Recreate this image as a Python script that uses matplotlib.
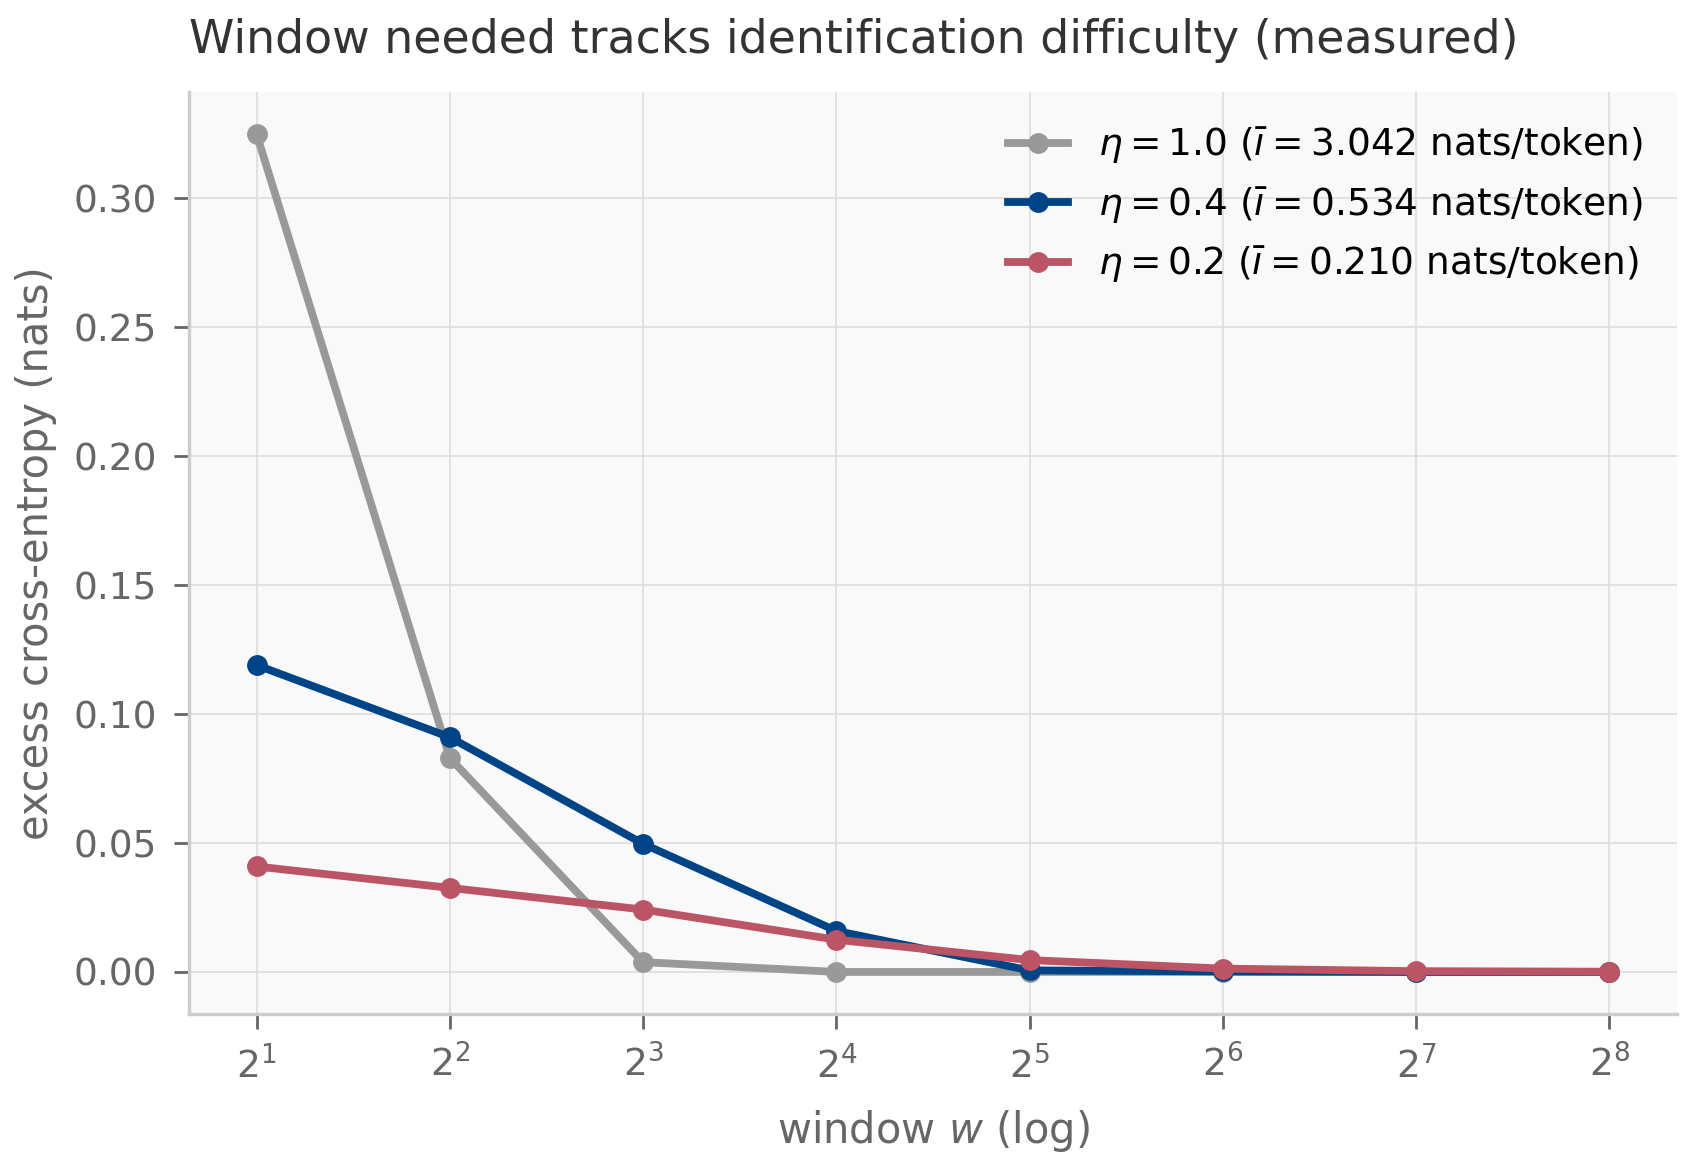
import numpy as np
import matplotlib
matplotlib.use("Agg")
import matplotlib.pyplot as plt

# window sizes (powers of two) and measured excess cross-entropy
windows = [2, 4, 8, 16, 32, 64, 128, 256]
eta_10 = [0.325, 0.083, 0.0038, 0.0, 0.0, 0.0, 0.0, 0.0]
eta_04 = [0.119, 0.091, 0.0497, 0.0159, 0.0006, 0.0002, 0.0, 0.0]
eta_02 = [0.0409, 0.0326, 0.0242, 0.0125, 0.0046, 0.0013, 0.0003, 0.0001]

labels = [
    r"$\eta = 1.0$ ($\bar{\imath} = 3.042$ nats/token)",
    r"$\eta = 0.4$ ($\bar{\imath} = 0.534$ nats/token)",
    r"$\eta = 0.2$ ($\bar{\imath} = 0.210$ nats/token)",
]
colors = ["#999999", "#004488", "#BB5566"]

plt.rcParams["font.family"] = ["DejaVu Sans"]

fig = plt.figure(figsize=(8.455, 5.82), dpi=200)
ax = fig.add_axes([0.1117, 0.129, 0.88, 0.792])
ax.set_facecolor("#f9f9f9")

for ys, lab, c in zip([eta_10, eta_04, eta_02], labels, colors):
    ax.plot(windows, ys, color=c, lw=2.8, marker="o", markersize=6.5, label=lab)

ax.set_xscale("log", base=2)
ax.set_xticks(windows)
ax.minorticks_off()

ax.grid(True, color="#dddddd", lw=0.6)
ax.set_axisbelow(True)
for s in ["top", "right"]:
    ax.spines[s].set_visible(False)
for s in ["left", "bottom"]:
    ax.spines[s].set_color("#cccccc")
    ax.spines[s].set_linewidth(1.2)

ax.tick_params(colors="#666666", labelsize=13.5, length=5.5, width=1.0, pad=6)

ax.set_xlabel(r"window $w$ (log)", fontsize=15, color="#666666", labelpad=8)
ax.set_ylabel("excess cross-entropy (nats)", fontsize=15, color="#666666", labelpad=6)
ax.set_title("Window needed tracks identification difficulty (measured)",
             loc="left", fontsize=16.5, color="#333333", pad=14)

ax.legend(loc="upper right", frameon=False, fontsize=13.5, handlelength=1.6)

fig.savefig("out.png", dpi=200)
